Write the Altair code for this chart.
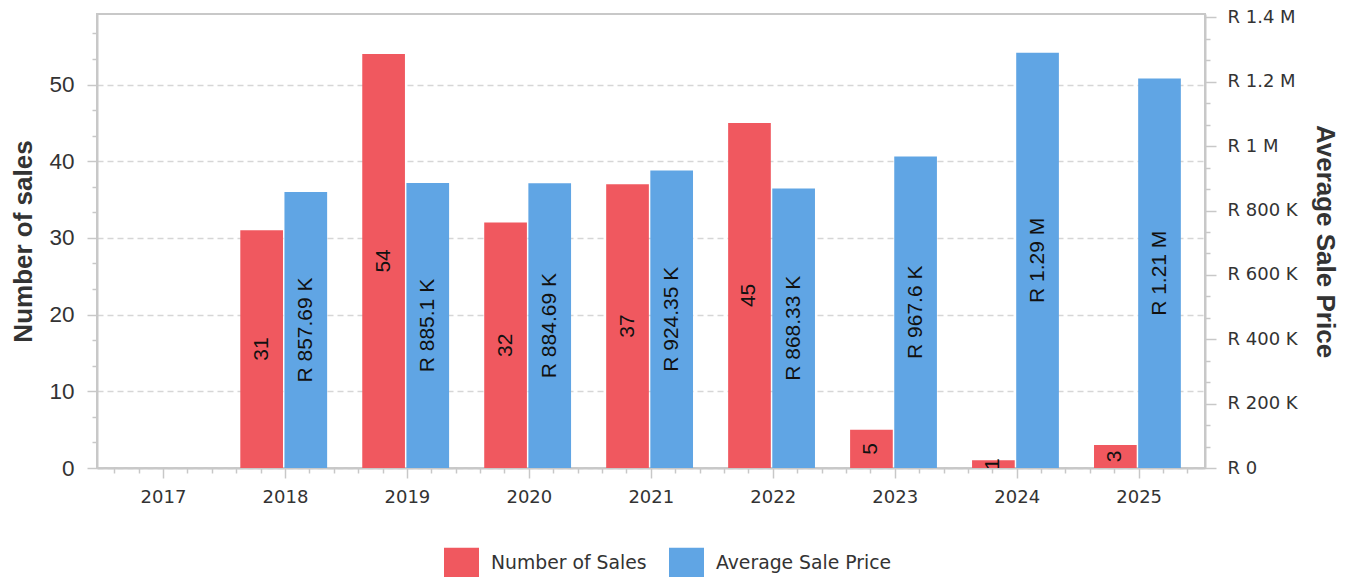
import altair as alt
import pandas as pd

# ---- data ----
years = [2017, 2018, 2019, 2020, 2021, 2022, 2023, 2024, 2025]
num_sales = [None, 31, 54, 32, 37, 45, 5, 1, 3]
avg_price = [None, 857690, 885100, 884690, 924350, 868330, 967600, 1290000, 1210000]
sales_labels = ["", "31", "54", "32", "37", "45", "5", "1", "3"]
price_labels = ["", "R 857.69 K", "R 885.1 K", "R 884.69 K", "R 924.35 K",
                "R 868.33 K", "R 967.6 K", "R 1.29 M", "R 1.21 M"]
series_names = ["Number of Sales", "Average Sale Price"]

# axis tick values (major + minor)
left_ticks = [0, 3.3333, 6.6667, 10, 13.3333, 16.6667, 20, 23.3333, 26.6667, 30,
              33.3333, 36.6667, 40, 43.3333, 46.6667, 50, 53.3333, 56.6667]
right_ticks = [0, 66666.67, 133333.33, 200000, 266666.67, 333333.33, 400000,
               466666.67, 533333.33, 600000, 666666.67, 733333.33, 800000,
               866666.67, 933333.33, 1000000, 1066666.67, 1133333.33, 1200000,
               1266666.67, 1333333.33, 1400000]
x_ticks = [2016.6, 2016.8, 2017, 2017.2, 2017.4, 2017.6, 2017.8, 2018, 2018.2, 2018.4,
           2018.6, 2018.8, 2019, 2019.2, 2019.4, 2019.6, 2019.8, 2020, 2020.2, 2020.4,
           2020.6, 2020.8, 2021, 2021.2, 2021.4, 2021.6, 2021.8, 2022, 2022.2, 2022.4,
           2022.6, 2022.8, 2023, 2023.2, 2023.4, 2023.6, 2023.8, 2024, 2024.2, 2024.4,
           2024.6, 2024.8, 2025, 2025.2, 2025.4]

RED = "#F0585F"
BLUE = "#60A5E4"

rows = []
for i, y in enumerate(years):
    rows.append({"year": y, "series": series_names[0], "value": num_sales[i], "label": sales_labels[i]})
    rows.append({"year": y, "series": series_names[1], "value": avg_price[i], "label": price_labels[i]})
df = pd.DataFrame(rows)

color_scale = alt.Scale(domain=series_names, range=[RED, BLUE])
legend = alt.Legend(
    title=None, orient="none", legendX=347, legendY=531, direction="horizontal",
    symbolType="M-1,-0.857H1V0.857H-1Z", symbolSize=1225, symbolStrokeWidth=0,
    symbolOpacity=1, labelFont="DejaVu Sans", labelFontSize=18.8, labelColor="#333333",
    labelOffset=12, columnPadding=22, padding=0, labelLimit=400,
)

x_scale = alt.Scale(domain=[2016.459, 2025.544], nice=False, zero=False)
major_x = "abs(datum.value - round(datum.value)) < 0.001"
x_axis = alt.Axis(
    title=None, values=x_ticks, tickCount=200, tickMinStep=0.01, grid=False,
    labelExpr=f"{major_x} ? format(round(datum.value), 'd') : ''",
    tickSize={"condition": {"test": major_x, "value": 10}, "value": 5},
    labelFont="DejaVu Sans", labelFontSize=18, labelPadding=10,
    labelOverlap=False, labelFlush=False,
)

major_l = "abs(datum.value/10 - round(datum.value/10)) < 0.001"
left_scale = alt.Scale(domain=[0, 59.2], nice=False)
left_axis = alt.Axis(
    title="Number of sales", orient="left", values=left_ticks, tickCount=200,
    tickMinStep=0.01,
    labelExpr=f"{major_l} ? format(round(datum.value), 'd') : ''",
    tickSize={"condition": {"test": major_l, "value": 10}, "value": 5},
    grid=True, gridOpacity={"condition": {"test": major_l, "value": 1}, "value": 0},
    labelFont="Liberation Sans", labelFontSize=22.5, labelPadding=13, labelOverlap=False,
    titleFont="Liberation Sans", titleFontSize=26, titleFontWeight="bold", titlePadding=12,
)

major_r = "abs(datum.value/200000 - round(datum.value/200000)) < 0.001"
right_scale = alt.Scale(domain=[0, 1410500], nice=False)
right_axis = alt.Axis(
    title="Average Sale Price", orient="right", values=right_ticks, tickCount=200,
    tickMinStep=0.01, grid=False,
    labelExpr=(f"{major_r} ? (datum.value == 0 ? 'R 0' : (datum.value >= 1000000 ? "
               "'R ' + format(datum.value/1000000, '.2~f') + ' M' : "
               "'R ' + format(datum.value/1000, '.0f') + ' K')) : ''"),
    tickSize={"condition": {"test": major_r, "value": 11}, "value": 5},
    labelFont="DejaVu Sans", labelFontSize=18, labelPadding=11, labelOverlap=False,
    titleFont="Liberation Sans", titleFontSize=26, titleFontWeight="bold", titlePadding=14,
)

base = alt.Chart().transform_calculate(
    x0="datum.year + (datum.series == 'Number of Sales' ? -0.366 : -0.004)",
    x1="datum.year + (datum.series == 'Number of Sales' ? -0.016 : 0.346)",
    xc="datum.year + (datum.series == 'Number of Sales' ? -0.191 : 0.171)",
    mid="datum.value / 2",
)

def bars(name, yscale, yaxis):
    return base.transform_filter(alt.datum.series == name).mark_bar().encode(
        x=alt.X("x0:Q", scale=x_scale, axis=x_axis),
        x2="x1:Q",
        y=alt.Y("value:Q", scale=yscale, axis=yaxis),
        y2=alt.datum(0),
        color=alt.Color("series:N", scale=color_scale, legend=legend),
    )

def labels(name, yscale, yaxis):
    return base.transform_filter(alt.datum.series == name).mark_text(
        angle=270, align="center", baseline="middle", font="Liberation Sans",
        fontSize=21, color="#111111", clip=True,
    ).encode(
        x=alt.X("xc:Q", scale=x_scale, axis=x_axis),
        y=alt.Y("mid:Q", scale=yscale, axis=yaxis),
        text="label:N",
    )

left = alt.layer(bars(series_names[0], left_scale, left_axis),
                 labels(series_names[0], left_scale, left_axis))
right = alt.layer(bars(series_names[1], right_scale, right_axis),
                  labels(series_names[1], right_scale, right_axis))

chart = alt.layer(left, right, data=df).resolve_scale(y="independent").properties(
    width=1108, height=454,
    padding={"left": 89, "top": 6, "right": 140, "bottom": 109},
    autosize=alt.AutoSizeParams(type="none"),
).configure_view(
    stroke="#C8C8C8", strokeWidth=2,
).configure_axis(
    domainColor="#C8C8C8", domainWidth=2, tickColor="#C8C8C8", tickWidth=1.5,
    gridColor="#D6D6D6", gridDash=[6, 4], gridWidth=1.5,
    labelColor="#333333", titleColor="#333333",
)

chart.save("out.html", embed_options={"renderer": "svg", "actions": False})
